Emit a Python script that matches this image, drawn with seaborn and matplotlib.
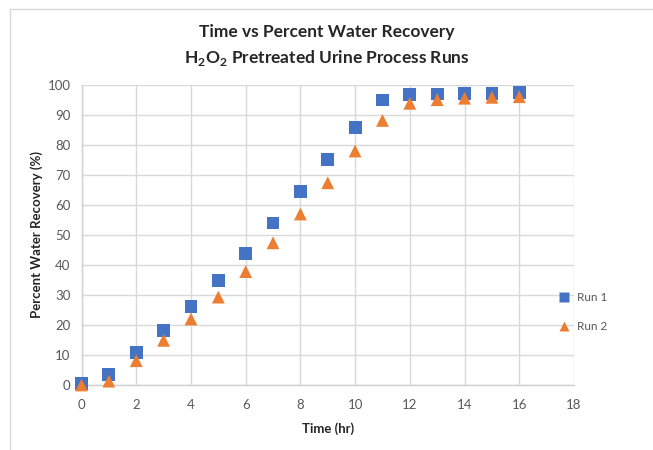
import matplotlib
matplotlib.use("Agg")
import matplotlib.pyplot as plt
from matplotlib.lines import Line2D
import seaborn as sns
import pandas as pd

time_hr = list(range(17))
run1 = [0.5, 3.4, 10.9, 18.3, 26.2, 34.8, 43.8, 54.0, 64.5, 75.3, 85.8, 95.0, 96.8, 97.0, 97.3, 97.3, 97.6]
run2 = [0.0, 1.3, 8.1, 14.9, 22.0, 29.3, 37.8, 47.4, 57.0, 67.4, 78.0, 88.2, 93.9, 95.1, 95.6, 95.9, 96.1]
series_names = ["Run 1", "Run 2"]

df = pd.DataFrame({
    "Time (hr)": time_hr * 2,
    "Percent Water Recovery (%)": run1 + run2,
    "Run": [series_names[0]] * len(time_hr) + [series_names[1]] * len(time_hr),
})

sns.set_theme(style="white")
plt.rcParams["font.family"] = ["Lato", "DejaVu Sans"]

W, H = 653, 450
fig = plt.figure(figsize=(W / 100, H / 100), dpi=100)
ax = fig.add_axes([81.5 / W, 1 - 385 / H, (574 - 81.5) / W, 300 / H])

sns.scatterplot(
    data=df, x="Time (hr)", y="Percent Water Recovery (%)",
    hue="Run", style="Run",
    palette={"Run 1": "#4472C4", "Run 2": "#ED7D31"},
    markers={"Run 1": "s", "Run 2": "^"},
    s=85, edgecolor="none", ax=ax, zorder=3, clip_on=False,
)

ax.set_xlim(0, 18)
ax.set_ylim(0, 100)
ax.set_xticks(range(0, 19, 2))
ax.set_yticks(range(0, 101, 10))
ax.grid(True, color="#D9D9D9", linewidth=1)
for s in ["top", "right"]:
    ax.spines[s].set_visible(False)
for s in ["left", "bottom"]:
    ax.spines[s].set_color("#D0D0D0")
    ax.spines[s].set_linewidth(1)
ax.tick_params(axis="x", length=0, labelsize=9.5, labelcolor="#595959", pad=10)
ax.tick_params(axis="y", length=0, labelsize=9.5, labelcolor="#595959", pad=8)

ax.set_xlabel("Time (hr)", fontsize=9.5, fontweight="bold", color="#262626", labelpad=8)
ax.set_ylabel("Percent Water Recovery (%)", fontsize=9.5, fontweight="bold", color="#262626", labelpad=3)

fig.text(0.5, 1 - 32 / H, "Time vs Percent Water Recovery", ha="center", va="center",
         fontsize=12.5, fontweight="bold", color="#262626")
fig.text(0.5, 1 - 58 / H, r"H$_\mathregular{2}$O$_\mathregular{2}$ Pretreated Urine Process Runs", ha="center", va="center",
         fontsize=12.5, fontweight="bold", color="#262626")

leg = ax.legend(loc="center left", bbox_to_anchor=(542 / W, 1 - 312 / H), bbox_transform=fig.transFigure,
                frameon=False, fontsize=8.5, handletextpad=0.1, labelspacing=1.55,
                markerscale=0.8)
for t in leg.get_texts():
    t.set_color("#595959")

# chart frame (left and top edges only visible in the reference crop)
fig.add_artist(Line2D([10 / W, 10 / W], [0, 1 - 9 / H], transform=fig.transFigure, color="#D9D9D9", linewidth=1))
fig.add_artist(Line2D([10 / W, 1], [1 - 9 / H, 1 - 9 / H], transform=fig.transFigure, color="#D9D9D9", linewidth=1))

fig.savefig("out.png", dpi=100)
